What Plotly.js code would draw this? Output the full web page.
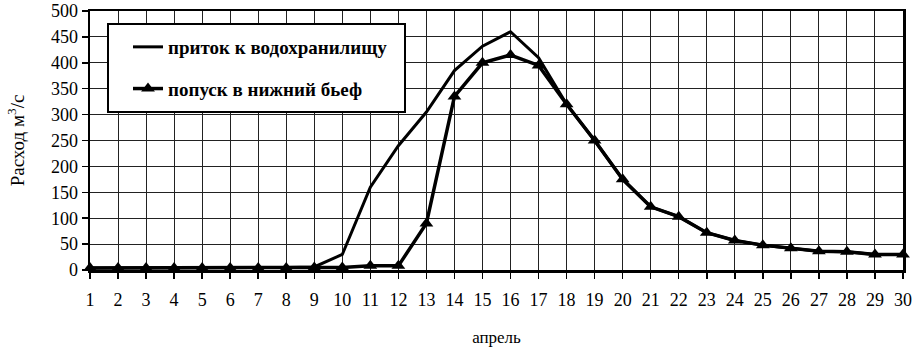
<!DOCTYPE html>
<html><head><meta charset="utf-8">
<script src="https://cdn.plot.ly/plotly-3.0.1.min.js"></script>
<style>html,body{margin:0;padding:0;background:#fff}#chart{width:913px;height:355px}</style>
</head><body><div id="chart"></div>
<script>
const days = [1,2,3,4,5,6,7,8,9,10,11,12,13,14,15,16,17,18,19,20,21,22,23,24,25,26,27,28,29,30];
const inflow = [4,4,4,4,4,4,4,5,6,30,160,240,305,385,432,460,410,320,250,175,122,103,72,57,48,42,36,35,30,30];
const outflow = [4,4,4,4,4,4,4,4,5,5,8,8,90,335,400,415,395,320,250,175,122,103,72,57,48,42,36,35,30,30];
const nameInflow = 'приток к водохранилищу';
const nameOutflow = 'попуск в нижний бьеф';
const xTitle = 'апрель';
const yTitle = 'Расход м<sup>3</sup>/с';

const serif = "'Liberation Serif', 'DejaVu Serif', serif";
const traces = [
  {x: days, y: inflow, name: nameInflow, mode: 'lines', type: 'scatter',
   line: {color: '#000', width: 3}, legendgroup: 'a', cliponaxis: false},
  {x: days, y: outflow, name: nameOutflow, mode: 'lines+markers', type: 'scatter',
   line: {color: '#000', width: 3.5}, marker: {symbol: 'triangle-up', size: 12, color: '#000'},
   legendgroup: 'b', cliponaxis: false}
];
const L = 90, R = 903, T = 11, B = 270;
const pw = R - L, ph = B - T;
const layout = {
  width: 913, height: 355,
  margin: {l: L, r: 913 - R, t: T, b: 355 - B},
  paper_bgcolor: '#fff', plot_bgcolor: '#fff',
  font: {family: serif, color: '#000', size: 18},
  showlegend: true,
  legend: {x: (128 - L) / pw, y: (270 - 28) / ph, xanchor: 'left', yanchor: 'top',
    bgcolor: 'rgba(0,0,0,0)', borderwidth: 0, traceorder: 'grouped', tracegroupgap: 14,
    font: {family: serif, size: 19, color: '#000', weight: 'bold'}},
  shapes: [{type: 'rect', xref: 'paper', yref: 'paper', layer: 'above',
    x0: (108 - L) / pw, x1: (405 - L) / pw, y0: (270 - 112) / ph, y1: (270 - 24) / ph,
    fillcolor: '#fff', line: {color: '#000', width: 2}}],
  xaxis: {range: [1, 30], tickmode: 'linear', tick0: 1, dtick: 1,
    showgrid: true, gridcolor: '#222', gridwidth: 1, zeroline: false,
    showline: true, linecolor: '#000', linewidth: 2.5, mirror: true,
    ticks: 'outside', ticklen: 6, tickwidth: 1.5, tickcolor: '#000', ticklabelstandoff: 6,
    tickfont: {family: serif, size: 18, color: '#000'},
    title: {text: xTitle, standoff: 22, font: {family: serif, size: 17, color: '#000'}}},
  yaxis: {range: [0, 500], tickmode: 'linear', tick0: 0, dtick: 50,
    showgrid: true, gridcolor: '#222', gridwidth: 1, zeroline: false,
    showline: true, linecolor: '#000', linewidth: 2.5, mirror: true,
    ticks: 'outside', ticklen: 6, tickwidth: 1.5, tickcolor: '#000',
    tickfont: {family: serif, size: 18, color: '#000'},
    title: {text: yTitle, standoff: 22, font: {family: serif, size: 19, color: '#000'}}}
};
Plotly.newPlot('chart', traces, layout, {displayModeBar: false, staticPlot: true});
</script></body></html>
